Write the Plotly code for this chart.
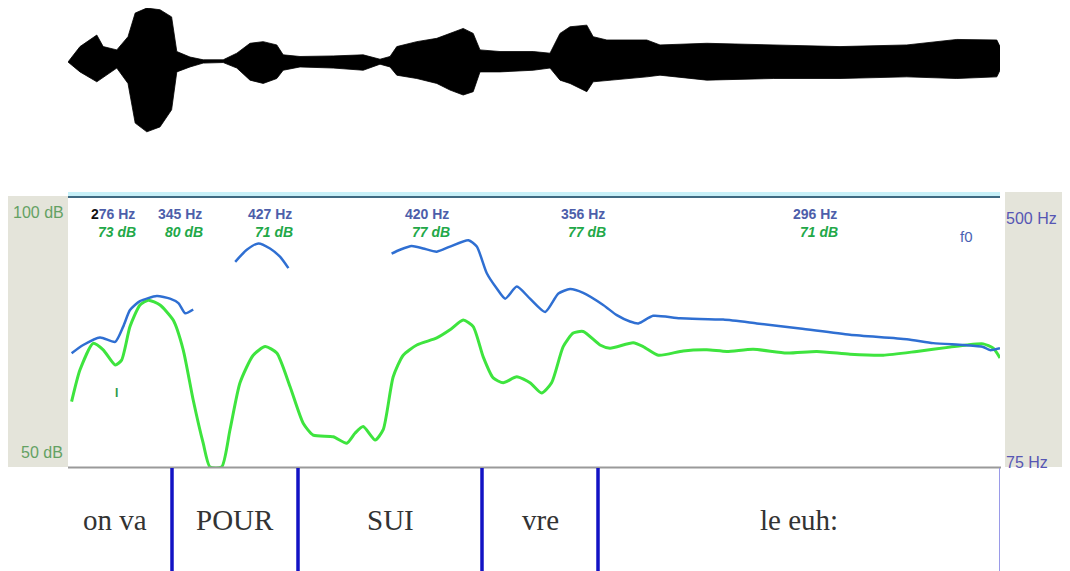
import plotly.graph_objects as go

# ---------------- data ----------------
# waveform envelope (time s, upper / lower normalized amplitude)
wave_t = [0.000, 0.030, 0.072, 0.088, 0.122, 0.150, 0.168, 0.197, 0.230, 0.259, 0.272, 0.305,
          0.338, 0.388, 0.422, 0.455, 0.488, 0.522, 0.538, 0.580, 0.663, 0.738, 0.780, 0.805,
          0.822, 0.872, 0.922, 0.955, 0.988, 1.013, 1.030, 1.080, 1.163, 1.205, 1.230, 1.255,
          1.297, 1.313, 1.347, 1.447, 1.480, 1.597, 1.763, 1.930, 2.097, 2.222, 2.322, 2.334]
wave_top = [0.00, 0.28, 0.49, 0.28, 0.22, 0.46, 0.89, 0.98, 0.95, 0.82, 0.19, 0.09,
            0.04, 0.04, 0.16, 0.34, 0.37, 0.31, 0.13, 0.10, 0.11, 0.13, 0.05, 0.10,
            0.28, 0.37, 0.43, 0.52, 0.61, 0.52, 0.22, 0.19, 0.19, 0.16, 0.52, 0.64,
            0.67, 0.46, 0.40, 0.40, 0.31, 0.34, 0.31, 0.28, 0.31, 0.41, 0.40, 0.22]
wave_bot = [0.00, -0.18, -0.36, -0.27, -0.11, -0.39, -1.11, -1.27, -1.18, -0.87, -0.18, -0.09,
            -0.02, -0.01, -0.11, -0.33, -0.39, -0.30, -0.15, -0.09, -0.11, -0.15, -0.04, -0.09,
            -0.24, -0.30, -0.39, -0.51, -0.60, -0.54, -0.18, -0.18, -0.15, -0.11, -0.33, -0.39,
            -0.54, -0.36, -0.33, -0.27, -0.24, -0.33, -0.30, -0.30, -0.27, -0.30, -0.27, -0.09]

# intensity (dB)
int_t = [0.009, 0.030, 0.063, 0.088, 0.118, 0.134, 0.155, 0.180, 0.201, 0.230, 0.263, 0.288,
         0.313, 0.338, 0.355, 0.384, 0.405, 0.430, 0.463, 0.493, 0.522, 0.555, 0.588, 0.613,
         0.663, 0.697, 0.718, 0.738, 0.768, 0.788, 0.813, 0.838, 0.872, 0.922, 0.955, 0.988,
         1.013, 1.038, 1.063, 1.088, 1.122, 1.155, 1.184, 1.209, 1.238, 1.263, 1.288, 1.330,
         1.355, 1.413, 1.438, 1.476, 1.538, 1.597, 1.647, 1.713, 1.797, 1.872, 1.955, 2.038,
         2.122, 2.205, 2.247, 2.288, 2.313, 2.330]
int_db = [62.1, 68.0, 72.9, 71.7, 68.9, 69.8, 76.0, 80.0, 80.9, 80.0, 77.2, 71.7,
          62.4, 54.4, 50.0, 50.0, 56.9, 65.6, 70.7, 72.3, 71.1, 64.9, 58.1, 55.9,
          55.6, 54.4, 56.3, 57.5, 55.0, 56.9, 66.7, 70.7, 72.6, 73.9, 75.4, 77.2,
          76.0, 70.4, 66.5, 65.6, 66.7, 65.6, 63.7, 65.6, 72.3, 74.8, 75.1, 72.6,
          72.0, 73.0, 72.3, 70.7, 71.5, 71.7, 71.4, 71.8, 71.1, 71.4, 70.9, 70.7,
          71.4, 72.2, 72.6, 72.8, 72.0, 70.2]

# f0 (Hz), None = unvoiced gap
f0_t = [0.009, 0.038, 0.080, 0.118, 0.138, 0.155, 0.180, 0.222, 0.255, 0.276, 0.293, 0.313,
        0.360,
        0.418, 0.447, 0.476, 0.505, 0.530, 0.551,
        0.700,
        0.809, 0.830, 0.859, 0.888, 0.922, 0.955, 1.001, 1.022, 1.047, 1.072, 1.093, 1.122,
        1.155, 1.193, 1.226, 1.255, 1.288, 1.338, 1.372, 1.405, 1.426, 1.463, 1.530, 1.638,
        1.722, 1.830, 1.955, 2.097, 2.163, 2.238, 2.288, 2.305, 2.330]
f0_hz = [254, 267, 279, 272, 296, 322, 336, 344, 340, 333, 317, 323,
         None,
         398, 417, 427, 419, 406, 388,
         None,
         411, 417, 423, 419, 414, 422, 432, 422, 380, 356, 340, 359,
         340, 319, 348, 355, 349, 330, 314, 304, 301, 313, 309, 307,
         301, 293, 283, 276, 270, 267, 264, 259, 262]

# measurement labels
label_t = [0.113, 0.280, 0.505, 0.898, 1.288, 1.867]
label_hz = ["276 Hz", "345 Hz", "427 Hz", "420 Hz", "356 Hz", "296 Hz"]
label_db = ["73 dB", "80 dB", "71 dB", "77 dB", "77 dB", "71 dB"]

# text tier
tier_bounds = [0.0, 0.26, 0.575, 1.035, 1.325, 2.33]
tier_words = ["on va", "POUR", "SUI", "vre", "le euh:"]

# ---------------- layout helpers (window pixel -> paper) ----------------
OFF = 8  # page body margin
W, H = 1070 - OFF, 571 - OFF
def px(x):
    return (x - OFF) / W
def py(y):
    return 1 - (y - OFF) / H

GREEN = "#3ee43e"
BLUE = "#2f6fd2"

fig = go.Figure()

# waveform
fig.add_trace(go.Scatter(
    x=wave_t + wave_t[::-1], y=wave_top + wave_bot[::-1],
    fill="toself", fillcolor="#000000", mode="lines",
    line=dict(color="#000000", width=0.8), yaxis="y3", hoverinfo="skip"))

# intensity
fig.add_trace(go.Scatter(x=int_t, y=int_db, mode="lines",
                         line=dict(color=GREEN, width=3, shape="spline", smoothing=0.6),
                         yaxis="y", hoverinfo="skip", cliponaxis=True))
# f0
fig.add_trace(go.Scatter(x=f0_t, y=f0_hz, mode="lines",
                         line=dict(color=BLUE, width=2.5, shape="spline", smoothing=0.6),
                         yaxis="y2", hoverinfo="skip", connectgaps=False))

shapes = []
# gray side panels
shapes.append(dict(type="rect", xref="paper", yref="paper", x0=px(8), x1=px(68),
                   y0=py(467), y1=py(196), fillcolor="#e4e4da", line=dict(width=0), layer="below"))
shapes.append(dict(type="rect", xref="paper", yref="paper", x0=px(1005), x1=px(1062),
                   y0=py(467), y1=py(192), fillcolor="#e4e4da", line=dict(width=0), layer="below"))
# top line of pitch panel
shapes.append(dict(type="line", xref="paper", yref="paper", x0=px(68), x1=px(1000),
                   y0=py(194), y1=py(194), line=dict(color="#c6f0f8", width=4)))
shapes.append(dict(type="line", xref="paper", yref="paper", x0=px(68), x1=px(1000),
                   y0=py(197), y1=py(197), line=dict(color="#3f6a82", width=2)))
# bottom line
shapes.append(dict(type="line", xref="paper", yref="paper", x0=px(68), x1=px(1001),
                   y0=py(467.5), y1=py(467.5), line=dict(color="#9a9a9a", width=2)))
# tier boundaries
for b in tier_bounds[1:-1]:
    shapes.append(dict(type="line", xref="x", yref="paper", x0=b, x1=b,
                       y0=py(468), y1=py(571), line=dict(color="#1212c4", width=3.5)))
shapes.append(dict(type="line", xref="x", yref="paper", x0=tier_bounds[-1], x1=tier_bounds[-1],
                   y0=py(468), y1=py(571), line=dict(color="#9a9ae8", width=2)))

annotations = []
for i, w in enumerate(tier_words):
    xc = (tier_bounds[i] + tier_bounds[i + 1]) / 2
    if i == 0:
        xc -= 0.012
    annotations.append(dict(x=xc, y=py(520),
                            xref="x", yref="paper", text=w, showarrow=False,
                            font=dict(family="Liberation Serif", size=29, color="#333333"),
                            xanchor="center", yanchor="middle"))

for i, (t, hz, db) in enumerate(zip(label_t, label_hz, label_db)):
    txt = hz
    if i == 0:
        txt = "<span style='color:#111111'>2</span>" + hz[1:]
    annotations.append(dict(x=t, y=py(214), xref="x", yref="paper", text="<b>" + txt + "</b>",
                            showarrow=False,
                            font=dict(family="Liberation Sans", size=14, color="#4d5eaa"),
                            xanchor="center", yanchor="middle"))
    annotations.append(dict(x=t + 0.01, y=py(232), xref="x", yref="paper",
                            text="<b><i>" + db + "</i></b>", showarrow=False,
                            font=dict(family="Liberation Sans", size=14, color="#22a848"),
                            xanchor="center", yanchor="middle"))

# axis labels
annotations += [
    dict(x=px(11), y=py(212), xref="paper", yref="paper", text="100 dB", showarrow=False,
         xanchor="left", yanchor="middle", font=dict(family="Liberation Sans", size=16, color="#63a163")),
    dict(x=px(19), y=py(452), xref="paper", yref="paper", text="50 dB", showarrow=False,
         xanchor="left", yanchor="middle", font=dict(family="Liberation Sans", size=16, color="#63a163")),
    dict(x=px(1004), y=py(218), xref="paper", yref="paper", text="500 Hz", showarrow=False,
         xanchor="left", yanchor="middle", font=dict(family="Liberation Sans", size=16, color="#5656b4")),
    dict(x=px(1004), y=py(463), xref="paper", yref="paper", text="75 Hz", showarrow=False,
         xanchor="left", yanchor="middle", font=dict(family="Liberation Sans", size=16, color="#5656b4")),
    dict(x=px(966), y=py(236), xref="paper", yref="paper", text="f0", showarrow=False,
         xanchor="center", yanchor="middle", font=dict(family="Liberation Sans", size=15, color="#4a62b4")),
    dict(x=px(116), y=py(393), xref="paper", yref="paper", text="<b>I</b>", showarrow=False,
         xanchor="center", yanchor="middle", font=dict(family="Liberation Sans", size=12, color="#2f9a4a")),
]

fig.update_layout(
    width=W, height=H, margin=dict(l=0, r=0, t=0, b=0),
    paper_bgcolor="white", plot_bgcolor="rgba(0,0,0,0)", showlegend=False,
    xaxis=dict(domain=[px(68), px(1000)], range=[0, 2.33], visible=False, fixedrange=True),
    yaxis=dict(domain=[py(467), py(197)], range=[50, 100], visible=False),
    yaxis2=dict(overlaying="y", range=[75, 500], visible=False),
    yaxis3=dict(domain=[py(134), py(8)], range=[-1.309, 1.127 - 8 / 55], visible=False, anchor="x"),
    shapes=shapes, annotations=annotations,
)

fig.write_html("out.html")
